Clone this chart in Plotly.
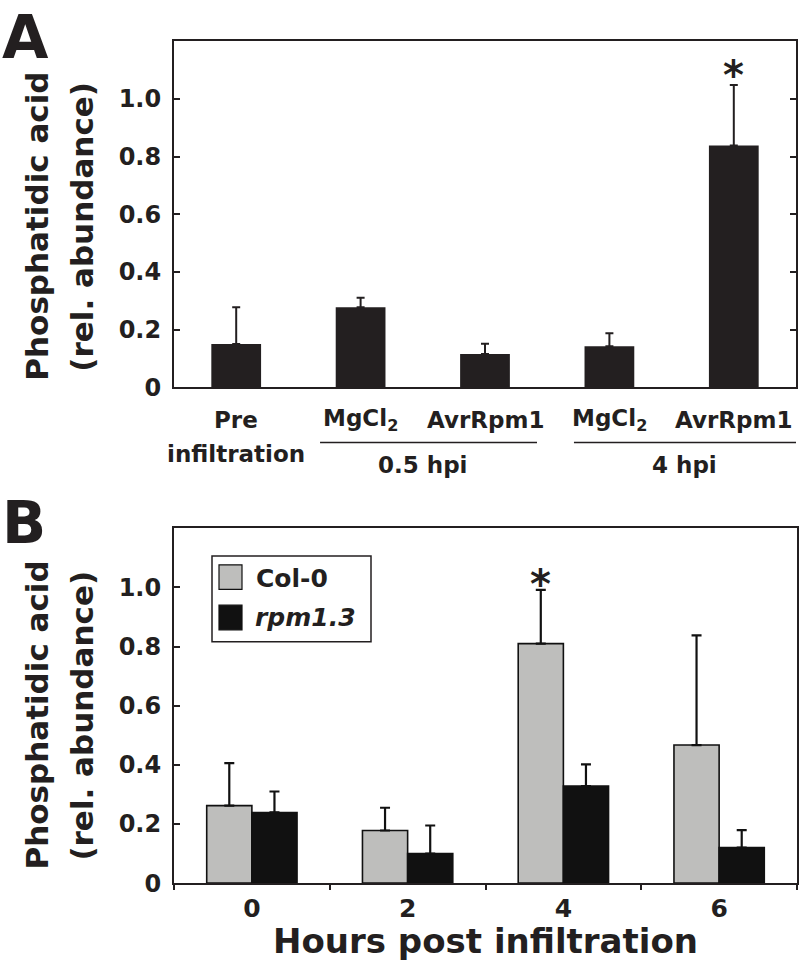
import plotly.graph_objects as go

W, H = 800, 976
INK = "#231f20"
FONT = "DejaVu Sans"

# ---------------- data ----------------
a_cats = ["Pre infiltration", "MgCl2 0.5 hpi", "AvrRpm1 0.5 hpi", "MgCl2 4 hpi", "AvrRpm1 4 hpi"]
a_vals = [0.150, 0.278, 0.116, 0.143, 0.839]
a_err = [0.128, 0.033, 0.035, 0.045, 0.210]

b_hours = ["0", "2", "4", "6"]
b_col0 = [0.262, 0.178, 0.810, 0.467]
b_col0_err = [0.144, 0.077, 0.182, 0.371]
b_rpm = [0.239, 0.100, 0.328, 0.120]
b_rpm_err = [0.071, 0.095, 0.074, 0.059]

y_ticks = [0, 0.2, 0.4, 0.6, 0.8, 1.0]
y_ticktext = ["0", "0.2", "0.4", "0.6", "0.8", "1.0"]


def px(x):
    return x / W


def py(y):
    return 1 - y / H


fig = go.Figure()

fig.add_trace(go.Bar(
    x=a_cats, y=a_vals, width=0.4, showlegend=False,
    marker=dict(color=INK, line=dict(width=0)),
    error_y=dict(type="data", array=a_err, arrayminus=[0] * len(a_err), symmetric=False,
                 color=INK, thickness=2, width=4),
    xaxis="x", yaxis="y",
))

fig.add_trace(go.Bar(
    name="Col-0", x=b_hours, y=b_col0, showlegend=False,
    marker=dict(color="#bebebc", line=dict(color="#111111", width=1.6)),
    error_y=dict(type="data", array=b_col0_err, arrayminus=[0] * 4, symmetric=False,
                 color="#111111", thickness=2.2, width=5),
    xaxis="x2", yaxis="y2",
))
fig.add_trace(go.Bar(
    name="rpm1.3", x=b_hours, y=b_rpm, showlegend=False,
    marker=dict(color="#111111", line=dict(color="#111111", width=1.6)),
    error_y=dict(type="data", array=b_rpm_err, arrayminus=[0] * 4, symmetric=False,
                 color="#111111", thickness=2.2, width=5),
    xaxis="x2", yaxis="y2",
))

yax_common = dict(range=[0, 1.2], tickvals=y_ticks, ticktext=y_ticktext,
                  ticks="inside", ticklen=6, tickwidth=2, tickcolor=INK,
                  showline=True, linewidth=2, linecolor=INK, showgrid=False, zeroline=False,
                  tickfont=dict(family=FONT, size=24, color=INK, weight="bold"),
                  ticklabelstandoff=6)

fig.update_layout(
    width=W, height=H, margin=dict(l=0, r=0, t=0, b=0),
    paper_bgcolor="white", plot_bgcolor="white",
    barmode="group", bargap=0.42, bargroupgap=0,
    xaxis=dict(domain=[px(174), px(796)], anchor="y", type="category", range=[-0.5, 4.5],
               showticklabels=False, ticks="", showline=True, linewidth=2, linecolor=INK,
               mirror=True, showgrid=False),
    yaxis=dict(domain=[py(393), py(42)], anchor="x", mirror="ticks", **yax_common),
    xaxis2=dict(domain=[px(174), px(797)], anchor="y2", type="category", range=[-0.5, 3.5],
                tickson="boundaries", ticks="outside", ticklen=5, tickwidth=2, tickcolor=INK,
                showline=True, linewidth=2, linecolor=INK, mirror=True, showgrid=False,
                tickfont=dict(family=FONT, size=25, color=INK, weight="bold"),
                ticklabelstandoff=2),
    yaxis2=dict(domain=[py(896), py(536)], anchor="x2", mirror=True, **yax_common),
)

ann = []
shapes = []


def txt(x, y, s, size, xref="paper", yref="paper", angle=0, italic=False, xanchor="center",
        yanchor="middle", xshift=0):
    ann.append(dict(x=x, y=y, xref=xref, yref=yref, text=s, showarrow=False, textangle=angle,
                    xanchor=xanchor, yanchor=yanchor, xshift=xshift,
                    font=dict(family=FONT, size=size, color=INK, weight="bold",
                              style="italic" if italic else "normal")))


# panel letters
txt(0, 1, "A", 60, xanchor="left", yanchor="top")
txt(0, py(494), "B", 58, xanchor="left", yanchor="top")

# y axis titles
for (c1, c2, yc) in [(37, 82, 230), (37, 82, 726)]:
    txt(px(c1), py(yc), "Phosphatidic acid", 31, angle=-90)
    txt(px(c2), py(yc), "(rel. abundance)", 31, angle=-90)

# panel A category labels
txt(a_cats[0], py(426), "Pre", 23, xref="x")
txt(a_cats[0], py(461), "infiltration", 23, xref="x")
for i in (1, 3):
    txt(a_cats[i], py(426), "MgCl<sub>2</sub>", 23, xref="x")
for i in (2, 4):
    txt(a_cats[i], py(426), "AvrRpm1", 23, xref="x")
txt(1.5, py(472), "0.5 hpi", 23, xref="x")
txt(3.6, py(472), "4 hpi", 23, xref="x")
shapes.append(dict(type="line", xref="x", yref="paper", x0=0.674, x1=2.418, y0=py(449), y1=py(449),
                   line=dict(color=INK, width=1.5)))
shapes.append(dict(type="line", xref="x", yref="paper", x0=2.715, x1=4.5, y0=py(449), y1=py(449),
                   line=dict(color=INK, width=1.5)))

# asterisks (significance marks above Col-0 at 4 h and AvrRpm1 at 4 hpi)
txt(4, 1.085, "*", 40, xref="x", yref="y")
txt(2, 1.01, "*", 40, xref="x2", yref="y2", xshift=-22.5)

# x title B
txt(0.5 * (px(174) + px(797)), py(955), "Hours post infiltration", 34)

# manual legend
shapes.append(dict(type="rect", xref="paper", yref="paper", x0=px(212), x1=px(371), y0=py(651), y1=py(564),
                   line=dict(color=INK, width=1.5), fillcolor="white"))
shapes.append(dict(type="rect", xref="paper", yref="paper", x0=px(219), x1=px(242), y0=py(598), y1=py(573),
                   line=dict(color="#111111", width=1.2), fillcolor="#bebebc"))
shapes.append(dict(type="rect", xref="paper", yref="paper", x0=px(219), x1=px(242), y0=py(639), y1=py(614),
                   line=dict(color="#111111", width=1.2), fillcolor="#111111"))
txt(px(254), py(587), "Col-0", 25, xanchor="left")
txt(px(253), py(626), "rpm1.3", 25, xanchor="left", italic=True)

fig.update_layout(annotations=ann, shapes=shapes)
fig.write_html("out.html", config={"displayModeBar": False},
               post_script="document.body.style.margin='0';document.body.style.overflow='hidden';")
